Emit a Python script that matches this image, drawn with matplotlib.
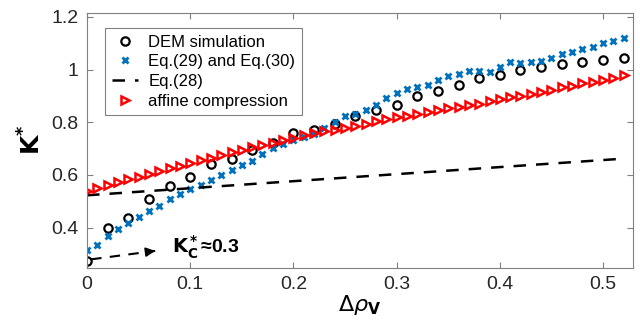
import numpy as np
import matplotlib
matplotlib.use('Agg')
import matplotlib.pyplot as plt
from matplotlib.ticker import FuncFormatter

plt.rcParams['font.family'] = ['Liberation Sans', 'DejaVu Sans']
plt.rcParams['mathtext.fontset'] = 'dejavusans'

# DEM simulation (every 0.02)
dem_x = [0.00, 0.02, 0.04, 0.06, 0.08, 0.10, 0.12, 0.14, 0.16, 0.18, 0.20, 0.22, 0.24, 0.26,
         0.28, 0.30, 0.32, 0.34, 0.36, 0.38, 0.40, 0.42, 0.44, 0.46, 0.48, 0.50, 0.52]
dem_k = [0.274, 0.397, 0.437, 0.509, 0.557, 0.592, 0.641, 0.662, 0.696, 0.721, 0.759, 0.772,
         0.795, 0.824, 0.845, 0.865, 0.898, 0.920, 0.940, 0.968, 0.978, 0.998, 1.010, 1.020,
         1.029, 1.035, 1.042]

# Eq.(29) and Eq.(30) (every 0.01)
eq_x = [i / 100 for i in range(53)]
eq_k = [0.314, 0.333, 0.367, 0.394, 0.418, 0.441, 0.463, 0.482, 0.507, 0.526, 0.545, 0.561,
        0.580, 0.599, 0.618, 0.636, 0.654, 0.679, 0.703, 0.717, 0.732, 0.744, 0.757, 0.777,
        0.800, 0.825, 0.833, 0.846, 0.867, 0.892, 0.911, 0.928, 0.932, 0.942, 0.962, 0.977,
        0.982, 0.995, 0.995, 0.992, 1.010, 1.029, 1.023, 1.027, 1.033, 1.044, 1.058, 1.067,
        1.077, 1.087, 1.099, 1.110, 1.121]

# affine compression (every 0.01)
aff_k = [0.540, 0.552, 0.562, 0.573, 0.583, 0.594, 0.604, 0.614, 0.625, 0.635, 0.645, 0.655,
         0.665, 0.675, 0.686, 0.696, 0.705, 0.713, 0.721, 0.731, 0.742, 0.750, 0.758, 0.765,
         0.772, 0.780, 0.786, 0.795, 0.805, 0.811, 0.819, 0.825, 0.830, 0.839, 0.848, 0.853,
         0.858, 0.865, 0.871, 0.882, 0.890, 0.896, 0.901, 0.909, 0.915, 0.924, 0.933, 0.939,
         0.948, 0.953, 0.960, 0.968, 0.980]

# Eq.(28) straight line
lin_x = [0.0, 0.52]
lin_k = [0.523, 0.662]

# K_C* arrow and label
arrow_start = (0.004, 0.280)
arrow_end = (0.066, 0.312)
label_pos = (0.082, 0.327)

fig = plt.figure(figsize=(6.4, 3.31), dpi=100)
ax = fig.add_axes([0.136, 0.191, 0.853, 0.771])

ax.plot(dem_x, dem_k, 'o', ms=6, mfc='none', mec='k', mew=1.6, label='DEM simulation')
ax.plot(eq_x, eq_k, 'x', ms=4.5, color='#0072BD', mew=2.0, label='Eq.(29) and Eq.(30)')
ax.plot(lin_x, lin_k, '--', color='k', lw=1.8, dashes=(5, 4), label='Eq.(28)')
ax.plot(eq_x, aff_k, '>', ms=5.5, mfc='none', mec='#FF0000', mew=1.8, label='affine compression')

ax.plot([arrow_start[0], arrow_end[0]], [arrow_start[1], arrow_end[1]], '--', color='k',
        lw=1.5, dashes=(5, 4))
ax.annotate('', xy=arrow_end, xytext=(arrow_end[0] - 0.004, arrow_end[1] - 0.002),
            arrowprops=dict(arrowstyle='-|>', color='k', lw=1.2, mutation_scale=14))
ax.text(label_pos[0], label_pos[1], r'$\mathbf{K_C^*}$' + '≈0.3', fontsize=14,
        fontweight='bold', va='center', ha='left')

ax.set_xlim(0, 0.529)
ax.set_ylim(0.248, 1.216)
ax.set_xticks([0, 0.1, 0.2, 0.3, 0.4, 0.5])
ax.set_yticks([0.4, 0.6, 0.8, 1.0, 1.2])
fmt = FuncFormatter(lambda v, p: '%g' % v)
ax.xaxis.set_major_formatter(fmt)
ax.yaxis.set_major_formatter(fmt)
ax.tick_params(direction='in', top=True, right=True, labelsize=14, colors='#808080',
               labelcolor='#262626', length=4, pad=6)
for s in ax.spines.values():
    s.set_color('#808080')

ax.set_xlabel(r'$\Delta\rho_{\mathbf{V}}$', fontsize=16, labelpad=0)
ax.set_ylabel(r'$\mathbf{K^{*}}$', fontsize=18, labelpad=4)

leg = ax.legend(loc='upper left', bbox_to_anchor=(0.033, 0.94), borderaxespad=0, fontsize=12,
                frameon=True, fancybox=False, edgecolor='#808080', framealpha=1, borderpad=0.4,
                handlelength=1.6, handletextpad=0.6, labelspacing=0.28)
leg.get_frame().set_linewidth(0.8)

fig.savefig('out.png', dpi=100)
